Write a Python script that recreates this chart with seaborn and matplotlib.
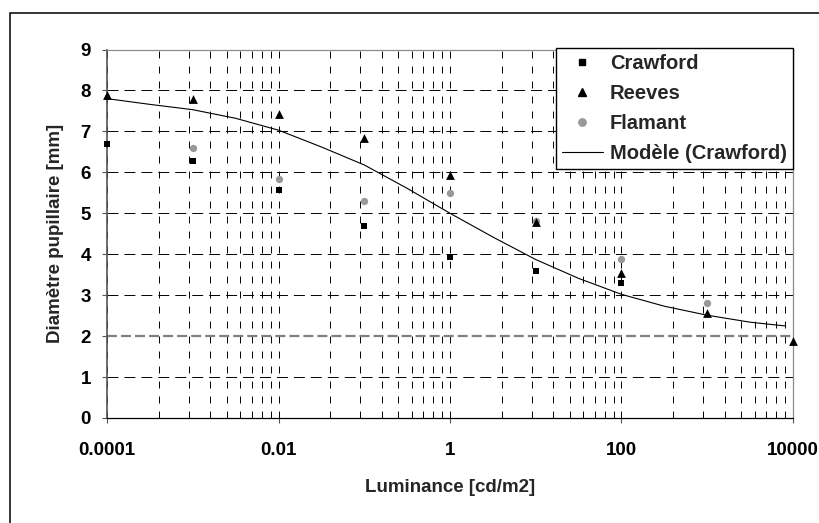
import matplotlib
matplotlib.use("Agg")
import matplotlib.pyplot as plt
import seaborn as sns
from matplotlib.patches import Rectangle
from matplotlib.lines import Line2D

# ---- data ----
crawford_L = [1e-4, 1e-3, 1e-2, 1e-1, 1, 10, 100]
crawford_d = [6.70, 6.28, 5.58, 4.69, 3.93, 3.59, 3.29]
reeves_L = [1e-4, 1e-3, 1e-2, 1e-1, 1, 10, 100, 1000, 10000]
reeves_d = [7.90, 7.78, 7.42, 6.85, 5.94, 4.79, 3.55, 2.56, 1.87]
flamant_L = [1e-3, 1e-2, 1e-1, 1, 10, 100, 1000]
flamant_d = [6.59, 5.84, 5.29, 5.49, 4.82, 3.88, 2.82]
model_L = [1e-4, 3.16e-4, 1e-3, 3.16e-3, 1e-2, 3.16e-2, 1e-1, 3.16e-1, 1,
           3.16, 10, 31.6, 100, 316, 1000, 3160, 8000]
model_d = [7.80, 7.66, 7.53, 7.32, 7.03, 6.62, 6.18, 5.61, 5.00,
           4.42, 3.87, 3.41, 3.02, 2.73, 2.51, 2.34, 2.25]

x_ticks = [1e-4, 1e-2, 1, 100, 1e4]
x_ticklabels = ["0.0001", "0.01", "1", "100", "10000"]
y_ticks = list(range(0, 10))
series_labels = ["Crawford", "Reeves", "Flamant", "Modèle (Crawford)"]

sns.set_theme(style="white")
plt.rcParams["font.family"] = ["Liberation Sans", "DejaVu Sans"]
plt.rcParams["font.weight"] = "bold"
plt.rcParams["lines.scale_dashes"] = False

fig = plt.figure(figsize=(8.2, 5.23), dpi=100)
fig.patch.set_facecolor("white")
ax = fig.add_axes([107 / 820, 1 - 418 / 523, (793 - 107) / 820, (418 - 49.5) / 523])
ax.set_facecolor("white")
ax.set_xscale("log")

grey = "#999999"
sns.scatterplot(x=crawford_L, y=crawford_d, ax=ax, marker="s", color="black",
                s=25, linewidth=0, zorder=4, clip_on=False)
sns.scatterplot(x=reeves_L, y=reeves_d, ax=ax, marker="^", color="black",
                s=40, linewidth=0, zorder=4, clip_on=False)
sns.scatterplot(x=flamant_L, y=flamant_d, ax=ax, marker="o", color=grey,
                s=28, linewidth=0, zorder=3, clip_on=False)
sns.lineplot(x=model_L, y=model_d, ax=ax, color="black", linewidth=0.8,
             estimator=None, sort=False, zorder=2)

ax.set_xlim(1e-4, 1e4)
ax.set_ylim(0, 9)
ax.set_xticks(x_ticks)
ax.set_xticklabels(x_ticklabels)
minor_pos = [m * n ** 2 for m in x_ticks[:-1] for n in range(2, 10)]
ax.set_xticks(minor_pos, minor=True)
ax.set_xticklabels([], minor=True)
ax.set_yticks(y_ticks)
ax.set_yticklabels([str(v) for v in y_ticks])

ax.set_axisbelow(True)
ax.grid(which="major", axis="y", color="black", linewidth=0.7,
        linestyle=(0, (7.9, 4.3)))
ax.grid(which="both", axis="x", color="black", linewidth=0.7,
        linestyle=(0, (5.0, 5.8)))
for tick_val, gl in zip(ax.get_yticks(), ax.yaxis.get_gridlines()):
    if abs(tick_val - 2) < 1e-9:
        gl.set_color("#808080")
        gl.set_linewidth(1.6)
        gl.set_linestyle((0, (7.2, 2.9)))

for side in ["top", "right"]:
    ax.spines[side].set_color("#8c8c8c")
    ax.spines[side].set_linewidth(0.9)
ax.spines["left"].set_color("#555555")
ax.spines["left"].set_linewidth(1.2)
ax.spines["bottom"].set_color("black")
ax.spines["bottom"].set_linewidth(0.9)

ax.tick_params(axis="both", which="major", direction="out", length=3.6,
               width=0.8, color="#555555", labelsize=13.5, labelcolor="black")
ax.tick_params(axis="x", which="major", pad=14, bottom=True)
ax.tick_params(axis="y", which="major", pad=8, left=True)
ax.tick_params(axis="x", which="minor", length=0)
for lab in ax.get_xticklabels() + ax.get_yticklabels():
    lab.set_fontweight("bold")

ax.set_xlabel("Luminance [cd/m2]", fontsize=13.5, fontweight="bold", labelpad=14)
ax.set_ylabel("Diamètre pupillaire [mm]", fontsize=13.5, fontweight="bold", labelpad=12)

handles = [
    Line2D([], [], linestyle="none", marker="s", color="black", markersize=5.0),
    Line2D([], [], linestyle="none", marker="^", color="black", markersize=6.3),
    Line2D([], [], linestyle="none", marker="o", color=grey, markersize=5.3),
    Line2D([], [], color="black", linewidth=0.8),
]
leg = ax.legend(handles, series_labels, loc="upper right",
                bbox_to_anchor=(1.0, 1.004), borderaxespad=0, frameon=True,
                fancybox=False, edgecolor="black", framealpha=1,
                prop={"family": "Liberation Sans", "weight": "bold", "size": 14.5},
                handlelength=2.05, handletextpad=0.35, borderpad=0.3,
                labelspacing=0.54)
leg.get_frame().set_linewidth(1.0)
leg.set_zorder(10)

frame = Rectangle((10 / 820, -0.1), 1.2, (1 - 13 / 523) + 0.1,
                  transform=fig.transFigure, fill=False, edgecolor="black",
                  linewidth=1.1)
fig.add_artist(frame)

fig.savefig("out.png", dpi=100, facecolor="white")
